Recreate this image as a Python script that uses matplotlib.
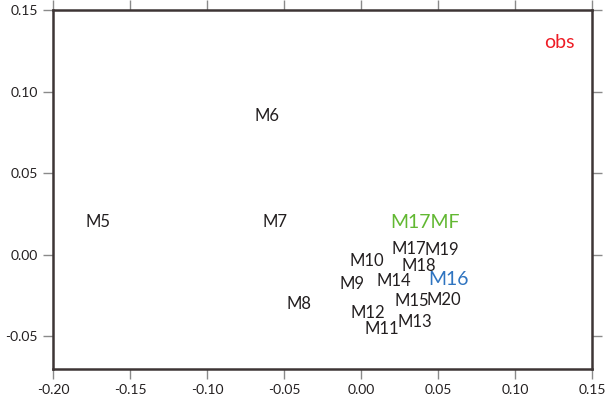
import matplotlib
matplotlib.use("Agg")
import matplotlib.pyplot as plt

plt.rcParams['font.family'] = ['Lato', 'DejaVu Sans']

# label positions
labels = ["obs", "M5", "M6", "M7", "M8", "M9", "M10", "M11", "M12", "M13", "M14",
          "M15", "M16", "M17", "M17MF", "M18", "M19", "M20"]
xs = [0.129, -0.171, -0.061, -0.056, -0.040, -0.006, 0.004, 0.0136, 0.0045, 0.035, 0.0214,
      0.033, 0.0565, 0.031, 0.0416, 0.0377, 0.0526, 0.054]
ys = [0.130, 0.020, 0.085, 0.020, -0.030, -0.018, -0.004, -0.0456, -0.036, -0.041, -0.016,
      -0.0285, -0.015, 0.0033, 0.020, -0.007, 0.003, -0.028]

special = {"obs": ("#ee1c25", 14), "M16": ("#2f74c0", 14), "M17MF": ("#62b832", 14)}

fig = plt.figure(figsize=(6.05, 4.01), dpi=100)
ax = fig.add_axes([0.0876, 0.080, 0.891, 0.895])

for lab, x, y in zip(labels, xs, ys):
    color, size = special.get(lab, ("#231f20", 12))
    ax.text(x, y, lab, color=color, fontsize=size, ha="center", va="center")

ax.set_xlim(-0.20, 0.15)
ax.set_ylim(-0.07, 0.15)
ax.set_xticks([-0.20, -0.15, -0.10, -0.05, 0.00, 0.05, 0.10, 0.15])
ax.set_yticks([-0.05, 0.00, 0.05, 0.10, 0.15])
ax.xaxis.set_major_formatter(matplotlib.ticker.FormatStrFormatter('%.2f'))
ax.yaxis.set_major_formatter(matplotlib.ticker.FormatStrFormatter('%.2f'))
ax.tick_params(direction="out", length=7, width=1, color="#8a8a8a",
               labelsize=10, labelcolor="#231f20", top=True, right=True, pad=4)
for s in ax.spines.values():
    s.set_color("#3d3535")
    s.set_linewidth(1.8)

fig.savefig("out.png", dpi=100)
